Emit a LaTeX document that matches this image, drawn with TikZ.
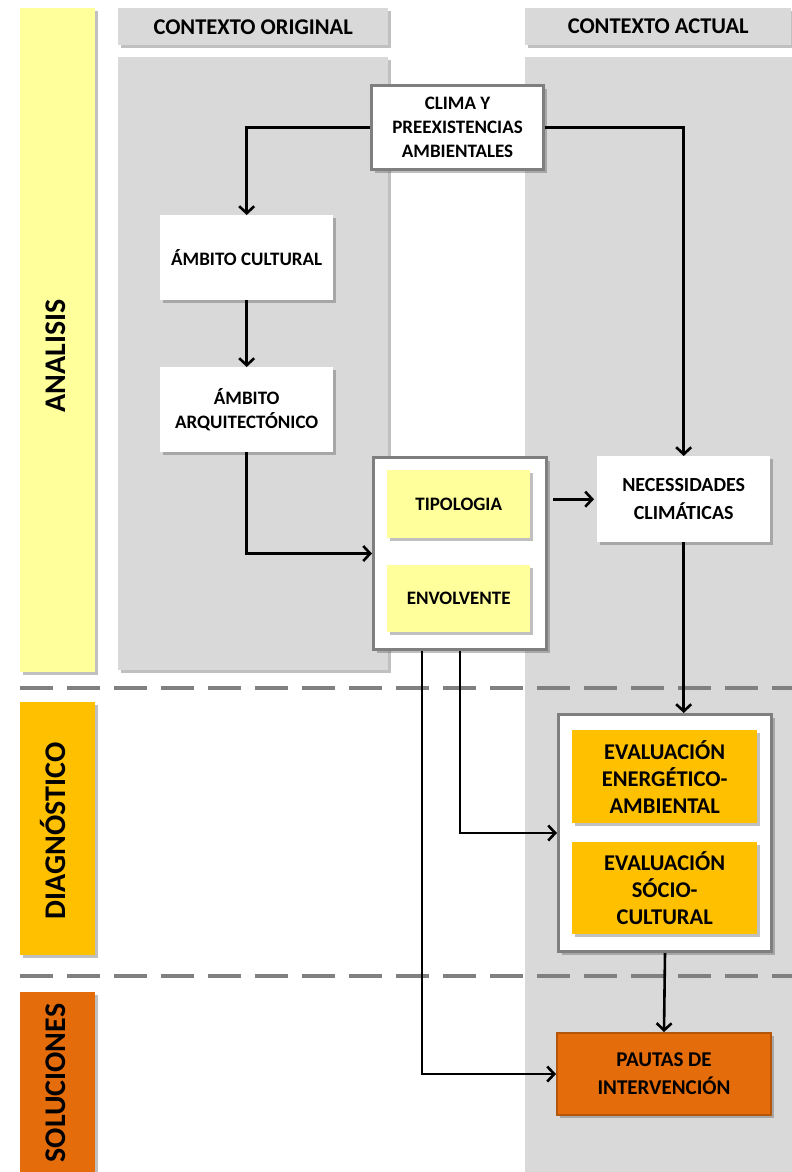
\documentclass[tikz,border=0pt]{standalone}
\usepackage{fontspec}
\setmainfont{Carlito}
\usetikzlibrary{arrows.meta,shadows,calc}
\definecolor{panelgray}{HTML}{D9D9D9}
\definecolor{bordergray}{HTML}{7F7F7F}
\definecolor{dashgray}{HTML}{808080}
\definecolor{lyellow}{HTML}{FFFF9C}
\definecolor{gold}{HTML}{FFC000}
\definecolor{dorange}{HTML}{E46C0A}
\definecolor{dorangeline}{HTML}{B4560A}
\begin{document}
\begin{tikzpicture}[x=1pt,y=-1pt,
  shd/.style={drop shadow={shadow xshift=3pt,shadow yshift=-3pt,opacity=0.35,fill=black!70}},
  panel/.style={fill=panelgray,shd},
  header/.style={fill=panelgray,shd,anchor=north west,inner sep=0pt,font=\bfseries\fontsize{22.5}{26}\selectfont},
  bar/.style={shd,anchor=north west,inner sep=0pt,minimum width=75pt},
  barlabel/.style={rotate=90,inner sep=0pt,text height=14pt,text depth=0pt,font=\bfseries\fontsize{30}{36}\selectfont},
  wbox/.style={fill=white,shd,anchor=north west,inner sep=0pt,align=center,font=\bfseries\fontsize{19}{24}\selectfont},
  frame/.style={fill=white,draw=bordergray,line width=3pt,shd,anchor=north west,inner sep=0pt},
  ybox/.style={fill=lyellow,shd,anchor=north west,inner sep=0pt,align=center,font=\bfseries\fontsize{19}{24}\selectfont},
  obox/.style={fill=gold,shd,anchor=north west,inner sep=0pt,align=center,font=\bfseries\fontsize{22.5}{27}\selectfont},
  sep/.style={draw=dashgray,line width=4.5pt,dash pattern=on 33pt off 14pt},
  arr/.style={line width=2.6pt,-{Straight Barb[length=7pt,width=15pt]}}
]
\useasboundingbox (0,0) rectangle (792,1172);
\fill[white] (0,0) rectangle (792,1172);

% background panels
\path[panel] (118,57) rectangle (388,670);
\path[panel] (525,57) rectangle (800,1180);

% headers
\node[header,minimum width=270pt,minimum height=37pt] (hOrig) at (118,8) {CONTEXTO ORIGINAL};
\node[header,minimum width=266pt,minimum height=37pt] (hAct) at (525,8) {CONTEXTO ACTUAL};

% side bars
\node[bar,fill=lyellow,minimum height=664pt] (bAna) at (20,8) {};
\node[bar,fill=gold,minimum height=253pt] (bDia) at (20,702) {};
\node[bar,fill=dorange,minimum height=190pt] (bSol) at (20,992) {};
\node[barlabel] (tAna) at (58,356) {ANALISIS};
\node[barlabel] (tDia) at (58,831) {DIAGNÓSTICO};
\node[barlabel] (tSol) at (58,1083) {SOLUCIONES};

% dashed separators
\coordinate (s1a) at (20,688); \coordinate (s1b) at (800,688);
\coordinate (s2a) at (20,976); \coordinate (s2b) at (800,976);
\draw[sep] (s1a) -- (s1b);
\draw[sep] (s2a) -- (s2b);

% nodes
\node[frame,align=center,font=\bfseries\fontsize{19}{24}\selectfont,minimum width=172pt,minimum height=84pt] (clima) at (370,84) {CLIMA Y\\PREEXISTENCIAS\\AMBIENTALES};
\node[wbox,minimum width=173pt,minimum height=85pt] (cult) at (160,215) {ÁMBITO CULTURAL};
\node[wbox,minimum width=173pt,minimum height=85pt] (arq) at (160,367) {ÁMBITO\\ARQUITECTÓNICO};
\node[frame,minimum width=173pt,minimum height=192pt] (outer) at (372,456) {};
\node[ybox,minimum width=143pt,minimum height=68pt] (tipo) at (387,470) {TIPOLOGIA};
\node[ybox,minimum width=143pt,minimum height=67pt] (envo) at (387,565) {ENVOLVENTE};
\node[wbox,font=\bfseries\fontsize{20}{28}\selectfont,minimum width=173pt,minimum height=86pt] (nec) at (597,456) {NECESSIDADES\\CLIMÁTICAS};
\node[frame,minimum width=213pt,minimum height=237pt] (evalbox) at (557,713) {};
\node[obox,minimum width=185pt,minimum height=93pt] (eva1) at (572,730) {EVALUACIÓN\\ENERGÉTICO-\\AMBIENTAL};
\node[obox,minimum width=185pt,minimum height=92pt] (eva2) at (572,842) {EVALUACIÓN\\SÓCIO-\\CULTURAL};
\node[fill=dorange,draw=dorangeline,line width=2pt,shd,anchor=north west,inner sep=0pt,align=center,font=\bfseries\fontsize{21}{28}\selectfont,minimum width=214pt,minimum height=82pt] (pautas) at (556,1032) {PAUTAS DE\\INTERVENCIÓN};

% connectors
\draw[arr] (clima.west) -| (cult.north);
\draw[arr] (clima.east) -| (nec.north);
\draw[arr] (cult.south) -- (arq.north);
\draw[arr] (arq.south) |- (outer.west);
\draw[arr,shorten <=5pt,shorten >=3pt] (outer.east |- nec.west) -- (nec.west);
\draw[arr] (nec.south) -- (nec.south |- evalbox.north);
\draw[arr] (outer.south) |- (evalbox.west);
\coordinate (outL) at ($(outer.south west)+(50,0)$);
\draw[arr] (outL) |- (pautas.west);
\draw[arr] (evalbox.south) -- (pautas.north);
\end{tikzpicture}
\end{document}
